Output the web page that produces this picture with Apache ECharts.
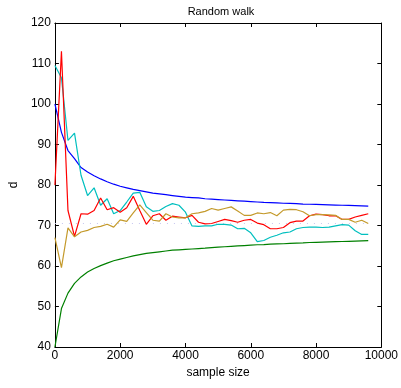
<!DOCTYPE html>
<html>
<head>
<meta charset="utf-8">
<script src="https://cdn.jsdelivr.net/npm/echarts@6/dist/echarts.min.js"></script>
<style>
  html, body { margin: 0; padding: 0; background: #fff; }
  #chart { width: 401px; height: 388px; }
</style>
</head>
<body>
<div id="chart"></div>
<script>
// sample sizes, one point every 200
const sampleSize = []
for (let s = 0; s <= 9600; s += 200) sampleSize.push(s)

const blueLine = [100, 93, 88.5, 86.5, 84.3, 83.2, 82.3, 81.5, 80.8, 80.2, 79.7, 79.3, 78.9, 78.6, 78.3, 78.0, 77.8,
    77.6, 77.4, 77.2, 77.0, 76.9, 76.8, 76.6, 76.5, 76.4, 76.3, 76.2, 76.1, 76.0, 75.9, 75.8, 75.7, 75.65, 75.6,
    75.5, 75.45, 75.4, 75.3, 75.25, 75.2, 75.15, 75.1, 75.05, 75.0, 74.95, 74.9, 74.85, 74.8]
const greenLine = [40, 49.5, 53.3, 55.7, 57.3, 58.5, 59.4, 60.1, 60.7, 61.3, 61.7, 62.1, 62.5, 62.8, 63.1, 63.3, 63.5,
    63.7, 63.9, 64.0, 64.1, 64.2, 64.3, 64.4, 64.55, 64.65, 64.75, 64.85, 64.95, 65.05, 65.15, 65.25, 65.3, 65.4,
    65.45, 65.5, 65.6, 65.65, 65.7, 65.8, 65.85, 65.9, 65.95, 66.0, 66.05, 66.1, 66.15, 66.2, 66.25]
const redLine = [80, 113, 73.7, 67.3, 72.9, 72.8, 73.7, 76.8, 73.9, 74.4, 73.3, 74.4, 77.2, 73.7, 70.3, 72.4, 72.9,
    71.3, 72.3, 72.1, 71.9, 72.5, 70.8, 70.4, 70.5, 71.0, 71.5, 71.2, 70.8, 71.3, 71.5, 70.6, 70.2, 69.2, 69.2,
    69.5, 70.7, 71.1, 71.1, 72.4, 72.8, 72.7, 72.4, 72.4, 71.5, 71.5, 72.1, 72.5, 72.9]
const cyanLine = [109.5, 106.5, 91, 92.8, 82.4, 77.4, 79.3, 75.0, 76.6, 72.9, 73.7, 75.8, 78.0, 78.2, 74.6, 73.5, 73.7,
    74.7, 75.4, 75.0, 73.3, 69.9, 69.8, 69.9, 69.9, 70.3, 70.3, 70.1, 69.2, 69.3, 68.2, 66.0, 66.3, 67.1, 67.6,
    68.2, 68.4, 69.2, 69.5, 69.6, 69.6, 69.5, 69.6, 69.9, 70.2, 70.1, 68.7, 67.8, 67.8]
const goldLine = [67.0, 59.6, 69.4, 67.2, 68.4, 68.8, 69.5, 69.8, 70.3, 69.6, 71.4, 71.0, 73.1, 75.1, 73.2, 71.3, 71.1,
    72.9, 72.1, 71.9, 71.9, 72.9, 73.1, 73.5, 74.2, 73.8, 74.2, 74.6, 73.6, 72.5, 72.5, 73.1, 72.9, 73.2, 72.4,
    73.8, 74.0, 73.9, 73.4, 72.4, 72.7, 72.7, 72.6, 72.5, 71.5, 71.5, 70.8, 71.3, 70.5]
const refLevel = 70.5

const xTicks = [0, 2000, 4000, 6000, 8000, 10000]
const yTicks = [40, 50, 60, 70, 80, 90, 100, 110, 120]

function pairs(values) {
    return values.map((v, i) => [sampleSize[i], v])
}

const font = 'Liberation Sans, Arial, sans-serif'

function lineSeries(values, color) {
    return {
        type: 'line',
        data: pairs(values),
        showSymbol: false,
        smooth: false,
        lineStyle: { color: color, width: 1.2 },
        itemStyle: { color: color },
        animation: false
    }
}

const axisCommon = {
    axisLine: { show: true, onZero: false, lineStyle: { color: '#000', width: 1 } },
    axisTick: { show: true, inside: true, length: 4, lineStyle: { color: '#000' } },
    splitLine: { show: false }
}

const chart = echarts.init(document.getElementById('chart'))
chart.setOption({
    animation: false,
    title: {
        text: 'Random walk',
        left: 216,
        textAlign: 'center',
        top: 1,
        textStyle: { fontFamily: font, fontSize: 11, fontWeight: 'normal', color: '#000' }
    },
    grid: { left: 47, right: 16, top: 23, bottom: 41 },
    xAxis: [
        Object.assign({}, axisCommon, {
            type: 'value', min: xTicks[0], max: xTicks[xTicks.length - 1], interval: 2000,
            name: 'sample size', nameLocation: 'middle', nameGap: 20,
            nameTextStyle: { fontFamily: font, fontSize: 12, color: '#000' },
            axisLabel: { fontFamily: font, fontSize: 12, color: '#000', margin: 3, formatter: v => String(v) }
        }),
        Object.assign({}, axisCommon, {
            type: 'value', position: 'top', min: xTicks[0], max: xTicks[xTicks.length - 1], interval: 2000,
            axisLabel: { show: false }
        })
    ],
    yAxis: [
        Object.assign({}, axisCommon, {
            type: 'value', min: yTicks[0], max: yTicks[yTicks.length - 1], interval: 10,
            name: 'd', nameLocation: 'middle', nameGap: 30, nameRotate: 90,
            nameTextStyle: { fontFamily: font, fontSize: 12, color: '#000' },
            axisLabel: { fontFamily: font, fontSize: 12, color: '#000', margin: 4, formatter: v => String(v) }
        }),
        Object.assign({}, axisCommon, {
            type: 'value', position: 'right', min: yTicks[0], max: yTicks[yTicks.length - 1], interval: 10,
            axisLabel: { show: false }
        })
    ],
    series: [
        {
            type: 'line',
            data: [[sampleSize[0], refLevel], [sampleSize[sampleSize.length - 1], refLevel]],
            showSymbol: false,
            lineStyle: { color: '#c4c4ee', width: 1, type: [1, 6] },
            animation: false
        },
        lineSeries(greenLine, '#008000'),
        lineSeries(blueLine, '#0000ff'),
        lineSeries(cyanLine, '#00bfbf'),
        lineSeries(redLine, '#ff0000'),
        lineSeries(goldLine, '#c49a2c')
    ]
})
</script>
</body>
</html>
